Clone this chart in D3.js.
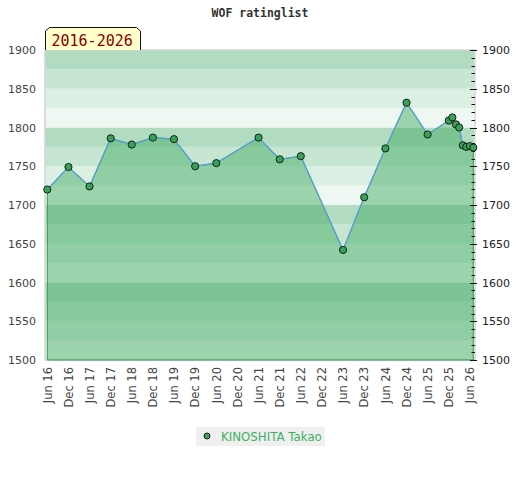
<!DOCTYPE html>
<html>
<head>
<meta charset="utf-8">
<script src="https://cdn.jsdelivr.net/npm/d3@7"></script>
<style>
  body { margin: 0; background: #fff; }
  svg { display: block; }
</style>
</head>
<body>
<script>
// rating list dates (year-month) and ratings
var dates = ["2016-06","2016-12","2017-06","2017-12","2018-06","2018-12","2019-06","2019-12",
             "2020-06","2021-06","2021-12","2022-06","2023-06","2023-12","2024-06","2024-12",
             "2025-06","2025-12","2026-01","2026-02","2026-03","2026-04","2026-05","2026-06","2026-07"];
var ratings = [1720,1749,1724,1786,1778,1787,1785,1750,1754,1787,1759,1763,1642,1710,1773,1832,
               1791,1809,1813,1804,1800,1777,1775,1776,1774];
var tickLabels = ["Jun 16","Dec 16","Jun 17","Dec 17","Jun 18","Dec 18","Jun 19","Dec 19","Jun 20",
                  "Dec 20","Jun 21","Dec 21","Jun 22","Dec 22","Jun 23","Dec 23","Jun 24","Dec 24",
                  "Jun 25","Dec 25","Jun 26"];
var yTicks = [1500,1550,1600,1650,1700,1750,1800,1850,1900];
var playerName = "KINOSHITA Takao";
var title = "WOF ratinglist";
var period = "2016-2026";

var w = 520, h = 480;
var plotL = 45, plotR = 474, plotT = 50, plotB = 360;

var parseMonth = d3.timeParse("%Y-%m");
var parseLabel = d3.timeParse("%b %y");
var data = dates.map(function(d, i) { return { date: parseMonth(d), rating: ratings[i] }; });

var xScale = d3.scaleTime()
    .domain(d3.extent(data, function(d) { return d.date; }))
    .range([47.3, 473.3]);
var yScale = d3.scaleLinear()
    .domain([1500, 1900])
    .range([plotB, plotT]);

var svg = d3.select("body").append("svg")
    .attr("width", w)
    .attr("height", h);

// background bands, every 25 points, repeating every 100
var bandColors = ["#eef7f1", "#dbefe2", "#c6e6d2", "#b2dcc2"];
svg.append("g").selectAll("rect")
   .data(d3.range(1500, 1900, 25))
   .enter()
   .append("rect")
   .attr("x", plotL)
   .attr("width", plotR - plotL)
   .attr("y", function(d) { return yScale(d + 25); })
   .attr("height", function(d) { return yScale(d) - yScale(d + 25); })
   .attr("fill", function(d) { return bandColors[((d - 1500) / 25) % 4]; });

// plot border
svg.append("rect")
   .attr("x", plotL).attr("y", plotT)
   .attr("width", plotR - plotL + 1).attr("height", plotB - plotT)
   .attr("fill", "none")
   .attr("stroke", "#d4d4d4")
   .attr("stroke-width", 1.5);

// area under the rating line
var area = d3.area()
    .x(function(d) { return xScale(d.date); })
    .y0(yScale(1500))
    .y1(function(d) { return yScale(d.rating); });
svg.append("path")
   .datum(data)
   .attr("d", area)
   .attr("fill", "rgba(64,169,95,0.47)")
   .attr("stroke", "#2f9a50")
   .attr("stroke-width", 1);

var line = d3.line()
    .x(function(d) { return xScale(d.date); })
    .y(function(d) { return yScale(d.rating); });
svg.append("path")
   .datum(data)
   .attr("d", line)
   .attr("fill", "none")
   .attr("stroke", "#5a9fd6")
   .attr("stroke-width", 1.3);

// left axis (labels only)
var yLeft = d3.axisLeft(yScale).tickValues(yTicks).tickFormat(d3.format("d"))
    .tickSize(0).tickPadding(9);
svg.append("g")
   .attr("transform", "translate(" + plotL + ",0)")
   .call(yLeft)
   .call(function(g) { g.select(".domain").remove(); })
   .selectAll("text")
   .attr("font-family", "DejaVu Sans")
   .attr("font-size", "11px")
   .attr("fill", "#444");

// right axis: labels, major and minor ticks crossing the edge
var yRight = d3.axisRight(yScale).tickValues(yTicks).tickFormat(d3.format("d"))
    .tickSize(0).tickPadding(8);
svg.append("g")
   .attr("transform", "translate(" + plotR + ",0)")
   .call(yRight)
   .call(function(g) { g.select(".domain").remove(); })
   .selectAll("text")
   .attr("font-family", "DejaVu Sans")
   .attr("font-size", "11px")
   .attr("fill", "#222");

svg.append("g").selectAll("line")
   .data(yScale.ticks(40))
   .enter()
   .append("line")
   .attr("x1", function(d) { return d % 50 === 0 ? plotR - 4 : plotR - 2.5; })
   .attr("x2", function(d) { return d % 50 === 0 ? plotR + 3 : plotR + 1; })
   .attr("y1", function(d) { return Math.round(yScale(d)) + 0.5; })
   .attr("y2", function(d) { return Math.round(yScale(d)) + 0.5; })
   .attr("stroke", "#111")
   .attr("stroke-width", 1);

// points
svg.append("g").selectAll("circle")
   .data(data)
   .enter()
   .append("circle")
   .attr("cx", function(d) { return xScale(d.date); })
   .attr("cy", function(d) { return yScale(d.rating); })
   .attr("r", 3.6)
   .attr("fill", "#38a158")
   .attr("stroke", "#111")
   .attr("stroke-width", 0.9);

// x axis labels, rotated
var xAxis = d3.axisBottom(xScale)
    .tickValues(tickLabels.map(function(t) { return parseLabel(t); }))
    .tickFormat(d3.timeFormat("%b %y"))
    .tickSize(0);
svg.append("g")
   .attr("transform", "translate(0," + plotB + ")")
   .call(xAxis)
   .call(function(g) { g.select(".domain").remove(); })
   .selectAll("text")
   .attr("font-family", "DejaVu Sans")
   .attr("font-size", "11.5px")
   .attr("fill", "#444")
   .attr("text-anchor", "end")
   .attr("transform", "rotate(-90)")
   .attr("x", -7)
   .attr("y", 0)
   .attr("dx", 0)
   .attr("dy", "0.33em");

// title
svg.append("text")
   .attr("x", 260).attr("y", 17)
   .attr("text-anchor", "middle")
   .attr("font-family", "DejaVu Sans Mono")
   .attr("font-weight", "bold")
   .attr("font-size", "11.5px")
   .attr("fill", "#333")
   .text(title);

// period tag
svg.append("path")
   .attr("d", "M45.5,50 L45.5,31 L49.5,27.5 L136.5,27.5 L140.5,31 L140.5,50")
   .attr("fill", "#ffffcc")
   .attr("stroke", "#111")
   .attr("stroke-width", 1);
svg.append("text")
   .attr("x", 51.5).attr("y", 45.5)
   .attr("font-family", "DejaVu Sans Mono")
   .attr("font-size", "15px")
   .attr("fill", "#8b0000")
   .text(period);

// legend
var legend = svg.append("g").attr("transform", "translate(196,427)");
legend.append("rect")
   .attr("width", 129).attr("height", 19)
   .attr("fill", "#f0f0f0");
legend.append("circle")
   .attr("cx", 11).attr("cy", 9)
   .attr("r", 3)
   .attr("fill", "#38a158")
   .attr("stroke", "#111")
   .attr("stroke-width", 0.9);
legend.append("text")
   .attr("x", 25).attr("y", 13.5)
   .attr("font-family", "DejaVu Sans")
   .attr("font-size", "11.8px")
   .attr("fill", "#3cb062")
   .text(playerName);
</script>
</body>
</html>
